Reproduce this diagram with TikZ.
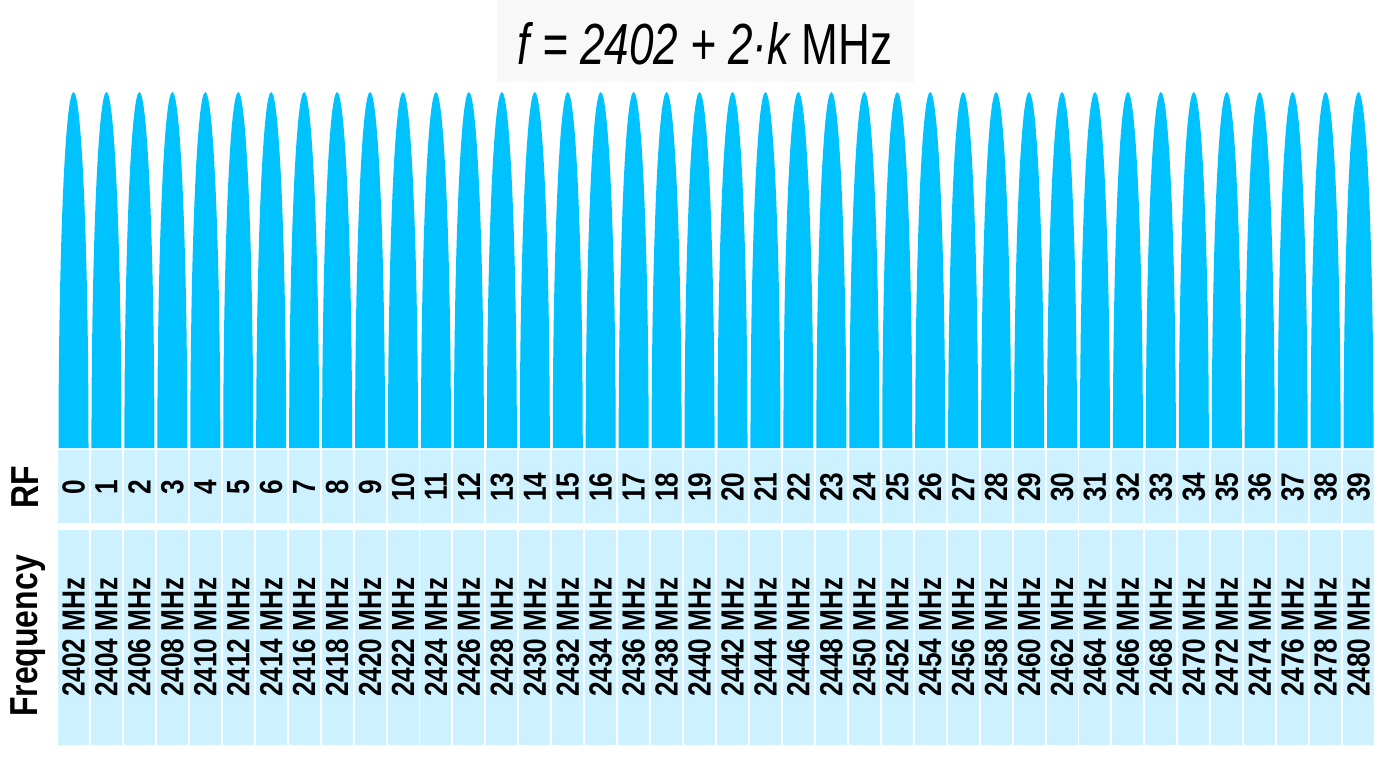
\documentclass[tikz,border=0pt]{standalone}
\usepackage{fontspec}
\setmainfont{Liberation Sans}
\newfontfamily\narrowsf{Liberation Sans}[FakeStretch=0.82]
\newfontfamily\formulasf{Liberation Sans}[FakeStretch=0.76]
\definecolor{lobeblue}{RGB}{0,194,255}
\definecolor{cellblue}{RGB}{206,241,255}
\definecolor{titlegray}{RGB}{248,248,248}

\begin{document}
\begin{tikzpicture}[x=1pt,y=-1pt,
  lobe/.style={fill=lobeblue},
  cell/.style={fill=cellblue},
  cellnum/.style={rotate=90,font=\narrowsf\bfseries\fontsize{32}{32}\selectfont},
  rowlabel/.style={rotate=90,font=\narrowsf\bfseries\fontsize{39}{39}\selectfont}]
  \useasboundingbox (0,0) rectangle (1388,773);
  % formula on top
  \fill[titlegray] (497,0) rectangle (914,82);
  \node[font=\formulasf\fontsize{58}{58}\selectfont] (formula) at (705,44) {\itshape f = 2402 + 2·k \upshape MHz};
  % row labels
  \node[rowlabel] (rflabel) at (25,487) {RF};
  \node[rowlabel] (freqlabel) at (28.5,636) {Frequency};
  % channels
  \foreach \i in {0,...,39}{
    \pgfmathsetmacro{\cx}{73.5+32.95*\i}
    \pgfmathtruncatemacro{\fr}{2402+2*\i}
    \fill[lobe] (\cx-15,448) arc[start angle=180,end angle=360,x radius=15,y radius=356] -- cycle;
    \fill[cell] (\cx-15.5,450) rectangle (\cx+15.5,523);
    \fill[cell] (\cx-15.5,530) rectangle (\cx+15.5,745);
    \node[cellnum] (rf\i) at (\cx,487) {\i};
    \node[cellnum] (freq\i) at (\cx,637) {\fr{} MHz};
  }
\end{tikzpicture}
\end{document}
